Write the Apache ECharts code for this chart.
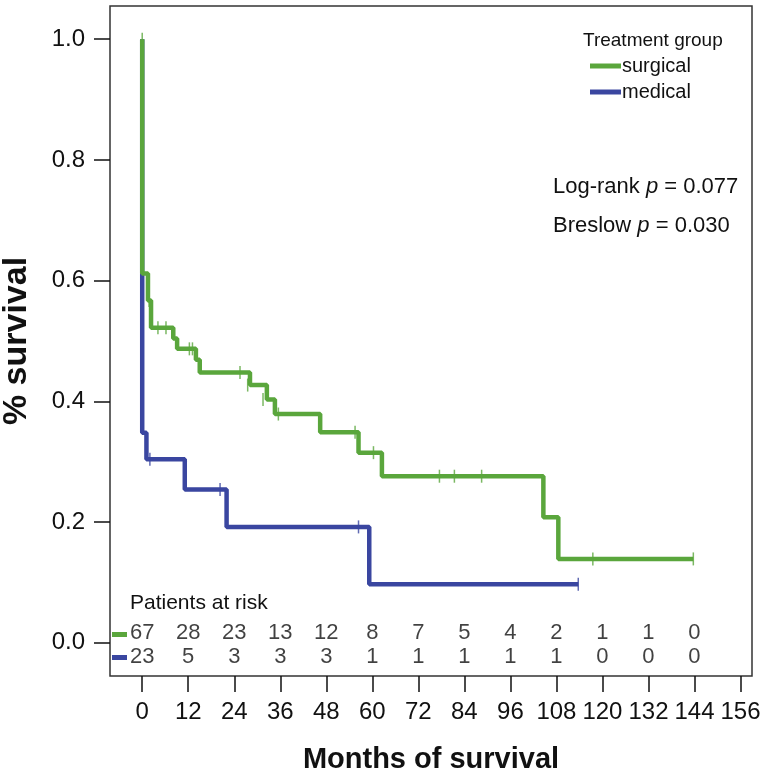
<!DOCTYPE html>
<html>
<head>
<meta charset="utf-8">
<script src="https://cdn.jsdelivr.net/npm/echarts@6/dist/echarts.min.js"></script>
<style>html,body{margin:0;padding:0;background:#fff}#c{width:768px;height:772px}</style>
</head>
<body>
<div id="c"></div>
<script>
// ---- data ----
const xTicks = [0, 12, 24, 36, 48, 60, 72, 84, 96, 108, 120, 132, 144, 156];
const yTicks = [0, 0.2, 0.4, 0.6, 0.8, 1.0];

const surgicalT = [0, 0, 1.5, 2.3, 8.1, 9.1, 14, 15, 28.1, 32.5, 34.6, 46.4, 56.4, 62.5, 104.6, 108.5, 143.7];
const surgicalS = [1.0, 0.612, 0.567, 0.522, 0.504, 0.487, 0.469, 0.448, 0.427, 0.403, 0.379, 0.349, 0.315, 0.276, 0.208, 0.139, 0.139];
const surgicalCensT = [0, 1.8, 4.1, 6.2, 12.3, 13.1, 25.5, 27.5, 31.5, 35.5, 55.5, 60.3, 77.5, 81.4, 88.5, 117.5, 143.7];
const surgicalCensS = [1.0, 0.567, 0.522, 0.522, 0.487, 0.487, 0.448, 0.427, 0.403, 0.379, 0.349, 0.315, 0.276, 0.276, 0.276, 0.139, 0.139];

const medicalT = [0, 0, 0, 1.1, 11.1, 22, 59.2, 113.7];
const medicalS = [1.0, 0.609, 0.348, 0.304, 0.254, 0.192, 0.097, 0.097];
const medicalCensT = [2.0, 20.3, 56.4, 113.7];
const medicalCensS = [0.304, 0.254, 0.192, 0.097];

const riskTimes = [0, 12, 24, 36, 48, 60, 72, 84, 96, 108, 120, 132, 144];
const riskSurgical = [67, 28, 23, 13, 12, 8, 7, 5, 4, 2, 1, 1, 0];
const riskMedical = [23, 5, 3, 3, 3, 1, 1, 1, 1, 1, 0, 0, 0];

const GREEN = '#5aa63c';
const BLUE = '#3a46a0';
const FONT = 'Liberation Sans, Arial, sans-serif';

const zip = (a, b) => a.map((v, i) => [v, b[i]]);

const chart = echarts.init(document.getElementById('c'), null, {renderer: 'canvas'});
chart.setOption({
  animation: false,
  backgroundColor: '#fff',
  grid: {left: 110, top: 6, right: 16, bottom: 96, show: true, borderColor: '#333', borderWidth: 1.5,
         backgroundColor: 'transparent', containLabel: false, outerBoundsMode: 'none'},
  xAxis: {
    type: 'value', min: -8.4, max: 159,
    name: 'Months of survival', nameLocation: 'middle', nameGap: 69,
    nameTextStyle: {fontFamily: FONT, fontWeight: 'bold', fontSize: 29, color: '#111'},
    axisLine: {show: false, onZero: false},
    splitLine: {show: false},
    axisTick: {show: true, inside: false, length: 16, customValues: xTicks, lineStyle: {color: '#111', width: 1.5}},
    axisLabel: {customValues: xTicks, margin: 24, fontFamily: FONT, fontSize: 24, color: '#111'}
  },
  yAxis: {
    type: 'value', min: -0.055, max: 1.055,
    name: '% survival', nameLocation: 'middle', nameGap: 76, nameRotate: 90,
    nameTextStyle: {fontFamily: FONT, fontWeight: 'bold', fontSize: 34, color: '#111'},
    axisLine: {show: false, onZero: false},
    splitLine: {show: false},
    axisTick: {show: true, inside: false, length: 16, customValues: yTicks, lineStyle: {color: '#111', width: 1.5}},
    axisLabel: {customValues: yTicks, margin: 25, fontFamily: FONT, fontSize: 24, color: '#111', formatter: v => v.toFixed(1)}
  },
  legend: {
    data: ['surgical', 'medical'], orient: 'vertical', left: 585, top: 51, itemGap: 6,
    icon: 'rect', itemWidth: 31, itemHeight: 5,
    textStyle: {fontFamily: FONT, fontSize: 20, color: '#111', padding: [0, 0, 0, -4]}
  },
  graphic: [
    {type: 'text', left: 583, top: 31, style: {text: 'Treatment group', fontFamily: FONT, fontSize: 19, fill: '#111'}},
    {type: 'text', left: 553, top: 176, style: {
      text: '{n|Log-rank }{i|p}{n| = 0.077}',
      rich: {n: {fontFamily: FONT, fontSize: 22, fill: '#111'}, i: {fontFamily: FONT, fontSize: 22, fontStyle: 'italic', fill: '#111'}}}},
    {type: 'text', left: 553, top: 215, style: {
      text: '{n|Breslow }{i|p}{n| = 0.030}',
      rich: {n: {fontFamily: FONT, fontSize: 22, fill: '#111'}, i: {fontFamily: FONT, fontSize: 22, fontStyle: 'italic', fill: '#111'}}}},
    {type: 'text', left: 130, top: 593, style: {text: 'Patients at risk', fontFamily: FONT, fontSize: 21, fill: '#111'}},
    {type: 'rect', left: 112, top: 632, shape: {width: 15, height: 5}, style: {fill: GREEN}},
    {type: 'rect', left: 112, top: 655, shape: {width: 15, height: 5}, style: {fill: BLUE}}
  ],
  series: [
    {name: 'medical', type: 'line', step: 'end', data: zip(medicalT, medicalS), showSymbol: false,
     lineStyle: {color: BLUE, width: 4.5}, itemStyle: {color: BLUE}, z: 2},
    {name: 'medical-c', type: 'scatter', data: zip(medicalCensT, medicalCensS), symbol: 'rect', symbolSize: [1.5, 13],
     itemStyle: {color: BLUE}, z: 3},
    {name: 'surgical', type: 'line', step: 'end', data: zip(surgicalT, surgicalS), showSymbol: false,
     lineStyle: {color: GREEN, width: 4.5}, itemStyle: {color: GREEN}, z: 4},
    {name: 'surgical-c', type: 'scatter', data: zip(surgicalCensT, surgicalCensS), symbol: 'rect', symbolSize: [1.5, 13],
     itemStyle: {color: GREEN}, z: 5},
    {name: 'risk-s', type: 'scatter', symbolSize: 0, data: riskTimes.map((t, i) => [t, 0.0165, riskSurgical[i]]),
     label: {show: true, position: 'inside', formatter: p => String(p.value[2]), fontFamily: FONT, fontSize: 22, color: '#111'}, z: 6},
    {name: 'risk-m', type: 'scatter', symbolSize: 0, data: riskTimes.map((t, i) => [t, -0.023, riskMedical[i]]),
     label: {show: true, position: 'inside', formatter: p => String(p.value[2]), fontFamily: FONT, fontSize: 22, color: '#111'}, z: 6}
  ]
});
</script>
</body>
</html>
